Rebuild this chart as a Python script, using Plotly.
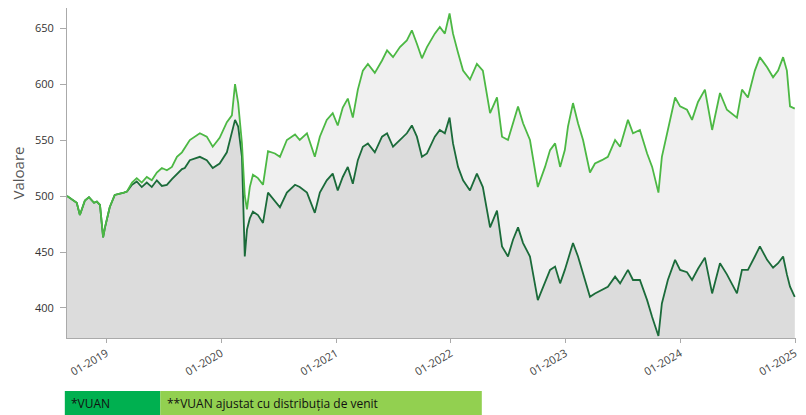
import plotly.graph_objects as go

# values (approximate)
dates = [
    "2018-08-28", "2018-09-28", "2018-10-08", "2018-10-24", "2018-11-06", "2018-11-22",
    "2018-12-01", "2018-12-11", "2018-12-21", "2018-12-27", "2019-01-11", "2019-01-27",
    "2019-02-25", "2019-03-07", "2019-03-23", "2019-04-07", "2019-04-23", "2019-05-09",
    "2019-05-25", "2019-06-10", "2019-06-26", "2019-07-12", "2019-07-28", "2019-08-13",
    "2019-08-29", "2019-09-07", "2019-09-23", "2019-10-25", "2019-11-16", "2019-12-05",
    "2019-12-27", "2020-01-19", "2020-02-04", "2020-02-14", "2020-02-24", "2020-03-07",
    "2020-03-16", "2020-03-23", "2020-04-01", "2020-04-11", "2020-04-27", "2020-05-13",
    "2020-05-29", "2020-06-20", "2020-07-06", "2020-07-28", "2020-08-23", "2020-09-07",
    "2020-09-30", "2020-10-25", "2020-11-10", "2020-12-02", "2020-12-21", "2021-01-06",
    "2021-01-22", "2021-02-07", "2021-02-23", "2021-03-11", "2021-03-27", "2021-04-12",
    "2021-05-04", "2021-05-27", "2021-06-12", "2021-07-01", "2021-07-23", "2021-08-14",
    "2021-08-30", "2021-09-15", "2021-10-01", "2021-10-17", "2021-11-11", "2021-11-27",
    "2021-12-13", "2021-12-28", "2022-01-08", "2022-01-24", "2022-02-09", "2022-03-03",
    "2022-03-25", "2022-04-13", "2022-05-06", "2022-05-28", "2022-06-13", "2022-07-02",
    "2022-07-18", "2022-08-03", "2022-08-19", "2022-09-10", "2022-10-05", "2022-10-28",
    "2022-11-13", "2022-11-29", "2022-12-15", "2022-12-30", "2023-01-09", "2023-01-25",
    "2023-02-10", "2023-02-26", "2023-03-20", "2023-04-05", "2023-04-27", "2023-05-16",
    "2023-06-08", "2023-06-24", "2023-07-19", "2023-08-04", "2023-08-26", "2023-09-18",
    "2023-10-04", "2023-10-24", "2023-11-04", "2023-11-23", "2023-12-16", "2024-01-01",
    "2024-01-23", "2024-02-08", "2024-02-27", "2024-03-20", "2024-04-12", "2024-05-07",
    "2024-05-29", "2024-06-30", "2024-07-16", "2024-08-04", "2024-08-26", "2024-09-11",
    "2024-10-04", "2024-10-23", "2024-11-08", "2024-11-24", "2024-12-06", "2024-12-16",
    "2024-12-31",
]

vuan_ajustat = [
    500, 494, 483, 496, 499, 494, 495, 492, 463, 472, 490, 501,
    503, 504, 512, 516, 512, 517, 514, 521, 525, 523, 526, 535,
    539, 543, 550, 556, 553, 544, 552, 566, 572, 600, 583, 547,
    500, 488, 508, 519, 516, 510, 540, 538, 535, 550, 555, 550,
    556, 535, 553, 568, 574, 563, 579, 587, 570, 595, 612, 618,
    610, 621, 630, 624, 633, 639, 648, 636, 623, 633, 645, 651,
    645, 663, 645, 628, 612, 604, 618, 612, 574, 588, 553, 550,
    565, 580, 565, 550, 508, 526, 541, 547, 526, 541, 562, 583,
    565, 550, 521, 529, 532, 535, 550, 544, 568, 556, 559, 538,
    526, 503, 535, 559, 588, 580, 577, 568, 584, 595, 559, 592,
    577, 570, 595, 588, 612, 624, 615, 606, 612, 624, 612, 580,
    578,
]

vuan = [
    500, 494, 483, 496, 499, 494, 495, 492, 463, 472, 490, 501,
    503, 504, 510, 513, 508, 512, 508, 514, 509, 510, 515, 520,
    524, 525, 532, 535, 532, 525, 529, 539, 558, 568, 562, 535,
    446, 470, 480, 486, 483, 476, 503, 496, 490, 503, 510, 508,
    503, 485, 503, 514, 520, 505, 517, 526, 511, 532, 544, 547,
    539, 553, 556, 544, 550, 556, 563, 553, 535, 538, 553, 559,
    556, 570, 547, 526, 514, 505, 520, 508, 472, 487, 455, 446,
    461, 472, 458, 446, 407, 422, 434, 437, 422, 434, 443, 458,
    446, 431, 410, 413, 416, 419, 428, 422, 434, 425, 425, 407,
    392, 375, 404, 425, 443, 434, 432, 425, 435, 445, 413, 440,
    430, 413, 434, 434, 446, 455, 443, 436, 440, 446, 430, 419,
    410,
]

year_ticks = ["2019-01-01", "2020-01-01", "2021-01-01", "2022-01-01",
              "2023-01-01", "2024-01-01", "2025-01-01"]
y_ticks = [400, 450, 500, 550, 600, 650]

legend_labels = ["*VUAN", "**VUAN ajustat cu distribuția de venit"]

dark_green = "#1b6b3a"
light_green = "#4cb844"

fig = go.Figure()

# fills first, lines on top (light line drawn last)
fig.add_trace(go.Scatter(x=dates, y=vuan_ajustat, mode="lines", fill="tozeroy",
                         fillcolor="#f0f0f0", line=dict(width=0), hoverinfo="skip"))
fig.add_trace(go.Scatter(x=dates, y=vuan, mode="lines", fill="tozeroy",
                         fillcolor="#dcdcdc", line=dict(width=0), hoverinfo="skip"))
fig.add_trace(go.Scatter(x=dates, y=vuan, mode="lines", name=legend_labels[0],
                         line=dict(color=dark_green, width=1.8)))
fig.add_trace(go.Scatter(x=dates, y=vuan_ajustat, mode="lines", name=legend_labels[1],
                         line=dict(color=light_green, width=1.8)))

# page body has an 8px margin, so the figure is sized to fit inside it
fig.update_layout(
    width=798,
    height=407,
    margin=dict(l=59, r=10, t=0, b=77),
    plot_bgcolor="white",
    paper_bgcolor="white",
    showlegend=False,
    font=dict(family="Open Sans, sans-serif", size=11, color="#333333"),
)
fig.update_xaxes(
    range=["2018-08-28", "2025-01-04"],
    tickvals=year_ticks,
    tickformat="%m-%Y",
    tickangle=-30,
    ticks="outside", ticklen=4, tickcolor="#aaaaaa",
    showline=True, linecolor="#aaaaaa", linewidth=1,
    showgrid=False, zeroline=False,
    tickfont=dict(size=11, color="#444444"),
)
fig.update_yaxes(
    range=[373.2, 667.9],
    tickvals=y_ticks,
    ticks="outside", ticklen=6, tickcolor="#aaaaaa",
    ticklabelstandoff=4,
    showline=True, linecolor="#aaaaaa", linewidth=1,
    showgrid=False, zeroline=False,
    title=dict(text="Valoare", font=dict(size=15, color="#555555"), standoff=10),
)

# legend drawn as two coloured boxes under the chart
box_y0, box_y1, text_y = -0.2333, -0.1606, -0.197
fig.add_shape(type="rect", xref="paper", yref="paper", x0=-0.003, x1=0.128,
              y0=box_y0, y1=box_y1, fillcolor="#00b050", line=dict(width=0))
fig.add_shape(type="rect", xref="paper", yref="paper", x0=0.128, x1=0.569,
              y0=box_y0, y1=box_y1, fillcolor="#92d050", line=dict(width=0))
fig.add_annotation(xref="paper", yref="paper", x=0.003, y=text_y, xanchor="left",
                   yanchor="middle", text=legend_labels[0], showarrow=False,
                   font=dict(size=12, color="#111111"))
fig.add_annotation(xref="paper", yref="paper", x=0.134, y=text_y, xanchor="left",
                   yanchor="middle", text=legend_labels[1], showarrow=False,
                   font=dict(size=12, color="#111111"))

fig.write_html("out.html")
